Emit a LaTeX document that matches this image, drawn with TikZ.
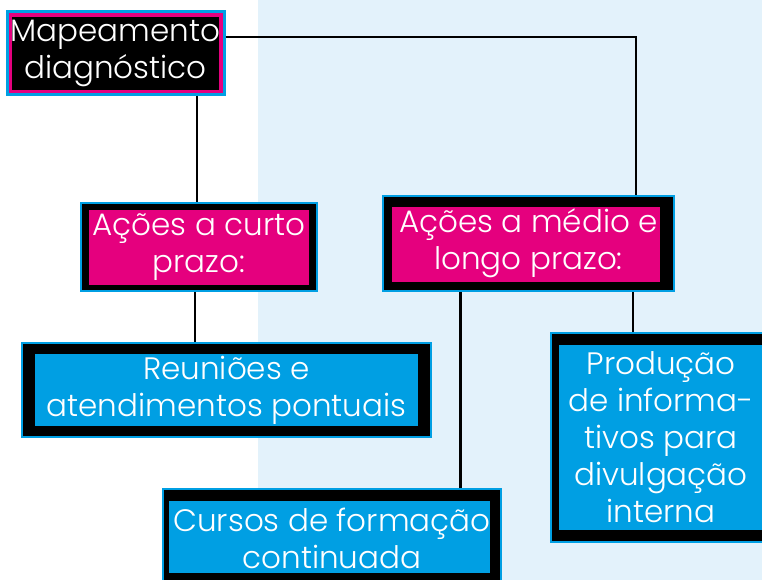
\documentclass[tikz,border=0pt]{standalone}
\usepackage{fontspec}
\setmainfont{Poppins}[UprightFont={* Light}]

\definecolor{rosa}{HTML}{E5007E}
\definecolor{azul}{HTML}{009FE3}
\definecolor{fundo}{HTML}{E3F2FB}

\tikzset{
  caixa/.style={draw=azul, line width=2pt, fill=black, text=white, align=center,
    inner sep=0pt, font=\fontsize{31}{37}\selectfont},
  miolo/.style n args={5}{caixa, path picture={
    \fill[#1] ([shift={(#2,#5)}]path picture bounding box.south west)
      rectangle ([shift={(-#3,-#4)}]path picture bounding box.north east);}},
  ligacao/.style={line width=2.5pt, black}
}

\begin{document}
\begin{tikzpicture}[x=1pt, y=-1pt]
\useasboundingbox (0,0) rectangle (762,580);
\fill[white] (0,0) rectangle (762,580);
\fill[fundo] (258,0) rectangle (762,580);

% caixas
\node[caixa, fill=rosa, line width=3pt, minimum width=217pt, minimum height=83pt,
  path picture={\fill[black] ([shift={(5pt,5pt)}]path picture bounding box.south west)
    rectangle ([shift={(-5pt,-5pt)}]path picture bounding box.north east);}]
  (mapa) at (115.5,53.5) {Mapeamento\\diagnóstico};
\node[miolo={rosa}{8pt}{8pt}{7pt}{6pt}, minimum width=236pt, minimum height=88pt]
  (curto) at (199,247) {Ações a curto\\prazo:};
\node[miolo={rosa}{9pt}{14pt}{11pt}{9pt}, minimum width=291pt, minimum height=95pt]
  (longo) at (528.5,243.5) {Ações a médio e\\longo prazo:};
\node[miolo={azul}{13pt}{13pt}{11pt}{11pt}, minimum width=409pt, minimum height=94pt]
  (reuniao) at (226.5,390) {Reuniões e\\atendimentos pontuais};
\node[miolo={azul}{8pt}{8pt}{12pt}{12pt}, minimum width=220pt, minimum height=209pt]
  (informe) at (661,437.5) {Produção\\de informa-\\tivos para\\divulgação\\interna};
\node[miolo={azul}{6pt}{11pt}{12pt}{14pt}, minimum width=338pt, minimum height=98pt]
  (curso) at (332,538) {Cursos de formação\\continuada};

% ligacoes
\draw[ligacao] ([yshift=16.5pt]mapa.east) -| ([xshift=107.5pt]longo.north);
\draw[ligacao] ([xshift=81.5pt]mapa.south) -- ([xshift=81.5pt]mapa.south |- curto.north);
\draw[ligacao] ([xshift=-4pt]curto.south) -- ([xshift=-4pt]curto.south |- reuniao.north);
\draw[ligacao] ([xshift=128.5pt]curso.north) -- ([xshift=128.5pt]curso.north |- longo.south);
\draw[ligacao] ([xshift=-28pt]informe.north) -- ([xshift=-28pt]informe.north |- longo.south);
\end{tikzpicture}
\end{document}
